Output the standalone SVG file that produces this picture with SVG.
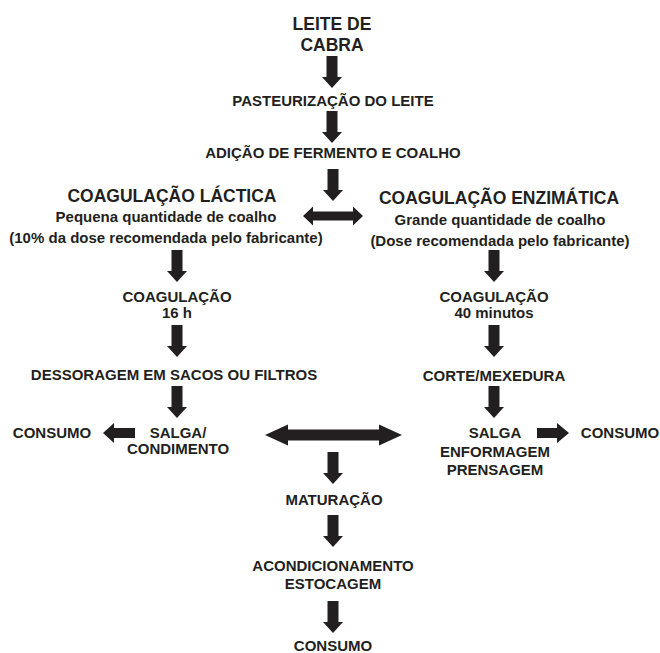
<svg xmlns="http://www.w3.org/2000/svg" width="660" height="653" viewBox="0 0 660 653">
<style>
text{font-family:"Liberation Sans",Arial,Helvetica,sans-serif;font-weight:bold;fill:#231f20;text-anchor:middle;font-size:15px}
.big{font-size:17.5px}
.arr{fill:#231f20}
</style>
<defs>
<path id="down" d="M-5.5,0 H5.5 V21 H10 L0,32 L-10,21 H-5.5 Z"/>
</defs>
<rect width="660" height="653" fill="#fff"/>
<g id="connectors" class="arr">
<use href="#down" x="332" y="56"/>
<use href="#down" x="332" y="111"/>
<use href="#down" x="333" y="169"/>
<use href="#down" x="177" y="250"/>
<use href="#down" x="177" y="325"/>
<use href="#down" x="177" y="386"/>
<use href="#down" x="494" y="250"/>
<use href="#down" x="494" y="325"/>
<use href="#down" x="494" y="386"/>
<use href="#down" x="333" y="452"/>
<use href="#down" x="333" y="515"/>
<use href="#down" x="333" y="601"/>
<path d="M303,216 L313,206.5 V211.5 H353 V206.5 L363,216 L353,225.5 V220.5 H313 V225.5 Z"/>
<path d="M265,435 L288,424.5 V429.5 H379 V424.5 L402,435 L379,445.5 V440.5 H288 V445.5 Z"/>
<path d="M103,433 L114,423 V428 H135 V438 H114 V443 Z"/>
<path d="M569,433 L557,423 V428 H537 V438 H557 V443 Z"/>
</g>
<g id="leite"><text class="big" x="332" y="30">LEITE DE</text><text class="big" x="332" y="51">CABRA</text></g>
<g id="pasteurizacao"><text x="333" y="106">PASTEURIZAÇÃO DO LEITE</text></g>
<g id="adicao"><text x="333" y="158">ADIÇÃO DE FERMENTO E COALHO</text></g>
<g id="lactica"><text class="big" x="172" y="202">COAGULAÇÃO LÁCTICA</text><text x="166" y="222">Pequena quantidade de coalho</text><text x="166" y="243">(10% da dose recomendada pelo fabricante)</text></g>
<g id="enzimatica"><text class="big" x="499" y="204">COAGULAÇÃO ENZIMÁTICA</text><text x="500" y="225">Grande quantidade de coalho</text><text x="500" y="246">(Dose recomendada pelo fabricante)</text></g>
<g id="coag16"><text x="177" y="302">COAGULAÇÃO</text><text x="177" y="318">16 h</text></g>
<g id="dessoragem"><text x="174" y="380">DESSORAGEM EM SACOS OU FILTROS</text></g>
<g id="salgaL"><text x="178" y="438">SALGA/</text><text x="178" y="454">CONDIMENTO</text></g>
<g id="consumoL"><text x="52" y="438">CONSUMO</text></g>
<g id="coag40"><text x="494" y="302">COAGULAÇÃO</text><text x="494" y="318">40 minutos</text></g>
<g id="corte"><text x="494" y="381">CORTE/MEXEDURA</text></g>
<g id="salgaR"><text x="495" y="438">SALGA</text><text x="495" y="457">ENFORMAGEM</text><text x="495" y="475">PRENSAGEM</text></g>
<g id="consumoR"><text x="620" y="438">CONSUMO</text></g>
<g id="maturacao"><text x="334" y="505">MATURAÇÃO</text></g>
<g id="acond"><text x="333" y="571">ACONDICIONAMENTO</text><text x="333" y="589">ESTOCAGEM</text></g>
<g id="consumoF"><text x="333" y="651">CONSUMO</text></g>
</svg>
